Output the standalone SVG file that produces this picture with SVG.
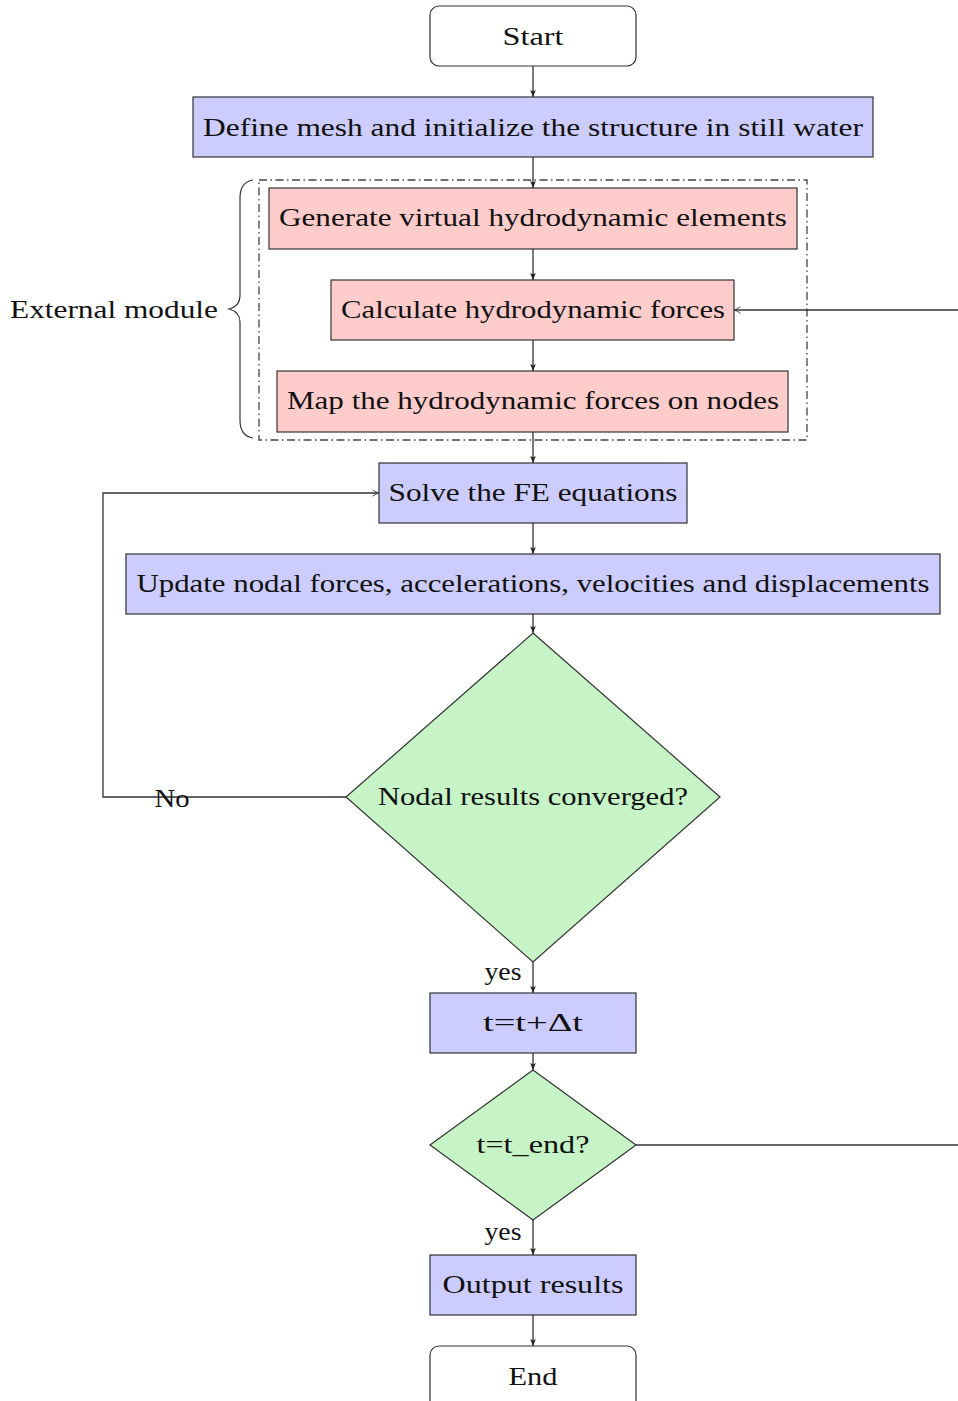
<svg xmlns="http://www.w3.org/2000/svg" width="958" height="1401" viewBox="0 0 958 1401">
<defs>
<marker id="ah" viewBox="0 0 10 10" refX="10" refY="5" markerWidth="7" markerHeight="7" markerUnits="userSpaceOnUse" orient="auto">
<path d="M0,1 L10,5 L0,9 L2,5 Z" fill="#222"/>
</marker>
<marker id="oa" viewBox="0 0 10 10" refX="9" refY="5" markerWidth="8" markerHeight="8" markerUnits="userSpaceOnUse" orient="auto">
<path d="M1,1 Q5,4 9,5 Q5,6 1,9" fill="none" stroke="#444" stroke-width="1.2"/>
</marker>
<style>
.t{font-family:"Liberation Serif","DejaVu Serif",serif;font-size:26px;fill:#111;text-anchor:middle}
.b{fill:#ccccff;stroke:#333;stroke-width:1.2}
.r{fill:#ffcccc;stroke:#333;stroke-width:1.2}
.g{fill:#c6f4c6;stroke:#333;stroke-width:1.2}
.w{fill:#fff;stroke:#333;stroke-width:1.2}
.c{fill:none;stroke:#333;stroke-width:1.3}
</style>
</defs>
<g id="module">
<rect x="259" y="180" width="548" height="260" fill="none" stroke="#444" stroke-width="1.3" stroke-dasharray="8,3.5,1.5,3.5"/>
<path d="M253,180 Q240,182 240,198 L240,296 Q240,306 229,309 Q240,312 240,322 L240,420 Q240,436 253,438" fill="none" stroke="#333" stroke-width="1.2"/>
<text class="t" x="114" y="318" textLength="208" lengthAdjust="spacingAndGlyphs">External module</text>
</g>
<g id="connectors">
<line class="c" x1="533" y1="66" x2="533" y2="97" marker-end="url(#ah)"/>
<line class="c" x1="533" y1="157" x2="533" y2="188" marker-end="url(#ah)"/>
<line class="c" x1="533" y1="249" x2="533" y2="280" marker-end="url(#ah)"/>
<line class="c" x1="533" y1="340" x2="533" y2="371" marker-end="url(#ah)"/>
<line class="c" x1="533" y1="432" x2="533" y2="463" marker-end="url(#ah)"/>
<line class="c" x1="533" y1="523" x2="533" y2="554" marker-end="url(#ah)"/>
<line class="c" x1="533" y1="614" x2="533" y2="633" marker-end="url(#ah)"/>
<line class="c" x1="533" y1="962" x2="533" y2="993" marker-end="url(#ah)"/>
<line class="c" x1="533" y1="1053" x2="533" y2="1070" marker-end="url(#ah)"/>
<line class="c" x1="533" y1="1220" x2="533" y2="1255" marker-end="url(#ah)"/>
<line class="c" x1="533" y1="1315" x2="533" y2="1346" marker-end="url(#ah)"/>
<polyline class="c" points="346,797 103,797 103,493 379,493" marker-end="url(#oa)"/>
<line class="c" x1="958" y1="310" x2="734" y2="310" marker-end="url(#oa)"/>
<line class="c" x1="636" y1="1145" x2="958" y2="1145"/>
<text class="t" x="172" y="807" textLength="35" lengthAdjust="spacingAndGlyphs">No</text>
<text class="t" x="503" y="980" textLength="37" lengthAdjust="spacingAndGlyphs">yes</text>
<text class="t" x="503" y="1240" textLength="37" lengthAdjust="spacingAndGlyphs">yes</text>
</g>
<g id="start">
<rect class="w" x="430" y="6" width="206" height="60" rx="9"/>
<text class="t" x="533" y="45" textLength="61" lengthAdjust="spacingAndGlyphs">Start</text>
</g>
<g id="define">
<rect class="b" x="193" y="97" width="680" height="60"/>
<text class="t" x="533" y="136" textLength="660" lengthAdjust="spacingAndGlyphs">Define mesh and initialize the structure in still water</text>
</g>
<g id="generate">
<rect class="r" x="269" y="188" width="528" height="61"/>
<text class="t" x="533" y="226" textLength="508" lengthAdjust="spacingAndGlyphs">Generate virtual hydrodynamic elements</text>
</g>
<g id="calculate">
<rect class="r" x="331" y="280" width="403" height="60"/>
<text class="t" x="533" y="318" textLength="384" lengthAdjust="spacingAndGlyphs">Calculate hydrodynamic forces</text>
</g>
<g id="map">
<rect class="r" x="277" y="371" width="511" height="61"/>
<text class="t" x="533" y="409" textLength="492" lengthAdjust="spacingAndGlyphs">Map the hydrodynamic forces on nodes</text>
</g>
<g id="solve">
<rect class="b" x="379" y="463" width="308" height="60"/>
<text class="t" x="533" y="501" textLength="289" lengthAdjust="spacingAndGlyphs">Solve the FE equations</text>
</g>
<g id="update">
<rect class="b" x="126" y="554" width="814" height="60"/>
<text class="t" x="533" y="592" textLength="793" lengthAdjust="spacingAndGlyphs">Update nodal forces, accelerations, velocities and displacements</text>
</g>
<g id="converged">
<polygon class="g" points="533,633 720,797 533,962 346,797"/>
<text class="t" x="533" y="805" textLength="310" lengthAdjust="spacingAndGlyphs">Nodal results converged?</text>
</g>
<g id="step">
<rect class="b" x="430" y="993" width="206" height="60"/>
<text class="t" x="533" y="1031" textLength="100" lengthAdjust="spacingAndGlyphs">t=t+Δt</text>
</g>
<g id="tend">
<polygon class="g" points="533,1070 636,1145 533,1220 430,1145"/>
<text class="t" x="533" y="1153" textLength="113" lengthAdjust="spacingAndGlyphs">t=t_end?</text>
</g>
<g id="output">
<rect class="b" x="430" y="1255" width="206" height="60"/>
<text class="t" x="533" y="1293" textLength="181" lengthAdjust="spacingAndGlyphs">Output results</text>
</g>
<g id="end">
<rect class="w" x="430" y="1346" width="206" height="70" rx="9"/>
<text class="t" x="533" y="1385" textLength="49" lengthAdjust="spacingAndGlyphs">End</text>
</g>
</svg>
